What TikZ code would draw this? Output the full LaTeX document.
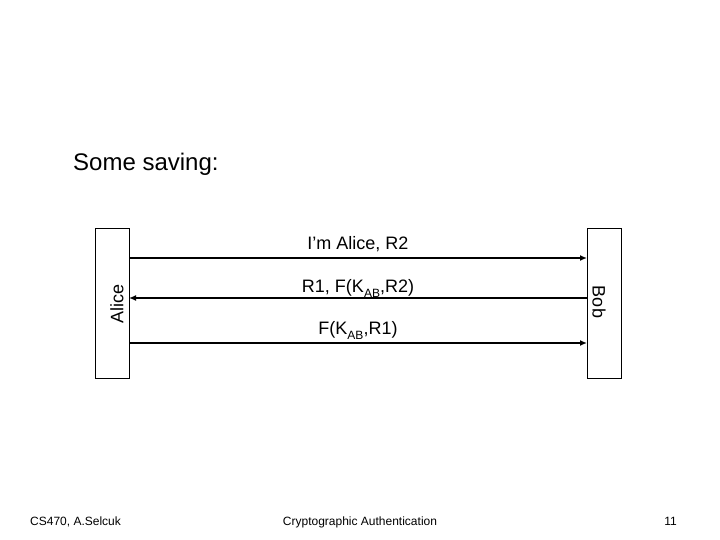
\documentclass[tikz,border=0pt]{standalone}
\usepackage{fontspec}
\setmainfont{Liberation Sans}
\usetikzlibrary{arrows.meta}
\begin{document}
\begin{tikzpicture}[x=1pt,y=-1pt,
  actor/.style={draw=black, line width=0.8pt, minimum width=34pt, minimum height=150pt, inner sep=0pt},
  msg/.style={line width=1.6pt, -{Latex[length=7pt,width=6pt]}},
  lbl/.style={font=\fontsize{18}{20}\selectfont, inner sep=0pt, anchor=base},
  foot/.style={font=\fontsize{12}{14}\selectfont, inner sep=0pt, anchor=base}]
\useasboundingbox (0,0) rectangle (720,540);
\node[font=\fontsize{24}{28}\selectfont, anchor=base west, inner sep=0pt] (title) at (73,171) {Some saving:};
\node[actor] (alice) at (112,303) {};
\node[actor] (bob) at (604,303) {};
\node[font=\fontsize{18}{20}\selectfont, rotate=90, inner sep=0pt] (alicel) at (117,304) {Alice};
\node[font=\fontsize{18}{20}\selectfont, rotate=-90, inner sep=0pt] (bobl) at (599,302) {Bob};
\coordinate (a1) at (129,258); \coordinate (b1) at (587,258);
\coordinate (a2) at (129,298); \coordinate (b2) at (587,298);
\coordinate (a3) at (129,343); \coordinate (b3) at (587,343);
\draw[msg] (a1) -- (b1);
\draw[msg] (b2) -- (a2);
\draw[msg] (a3) -- (b3);
\node[lbl] (m1) at (358,249) {I’m Alice, R2};
\node[lbl] (m2) at (358,292) {R1, F(K\raisebox{-0.6ex}{\fontsize{12}{14}\selectfont AB},R2)};
\node[lbl] (m3) at (358,334) {F(K\raisebox{-0.6ex}{\fontsize{12}{14}\selectfont AB},R1)};
\node[foot, anchor=base west] (f1) at (30,525) {CS470, A.Selcuk};
\node[foot] (f2) at (360,525) {Cryptographic Authentication};
\node[foot, anchor=base east] (f3) at (677,525) {11};
\end{tikzpicture}
\end{document}
